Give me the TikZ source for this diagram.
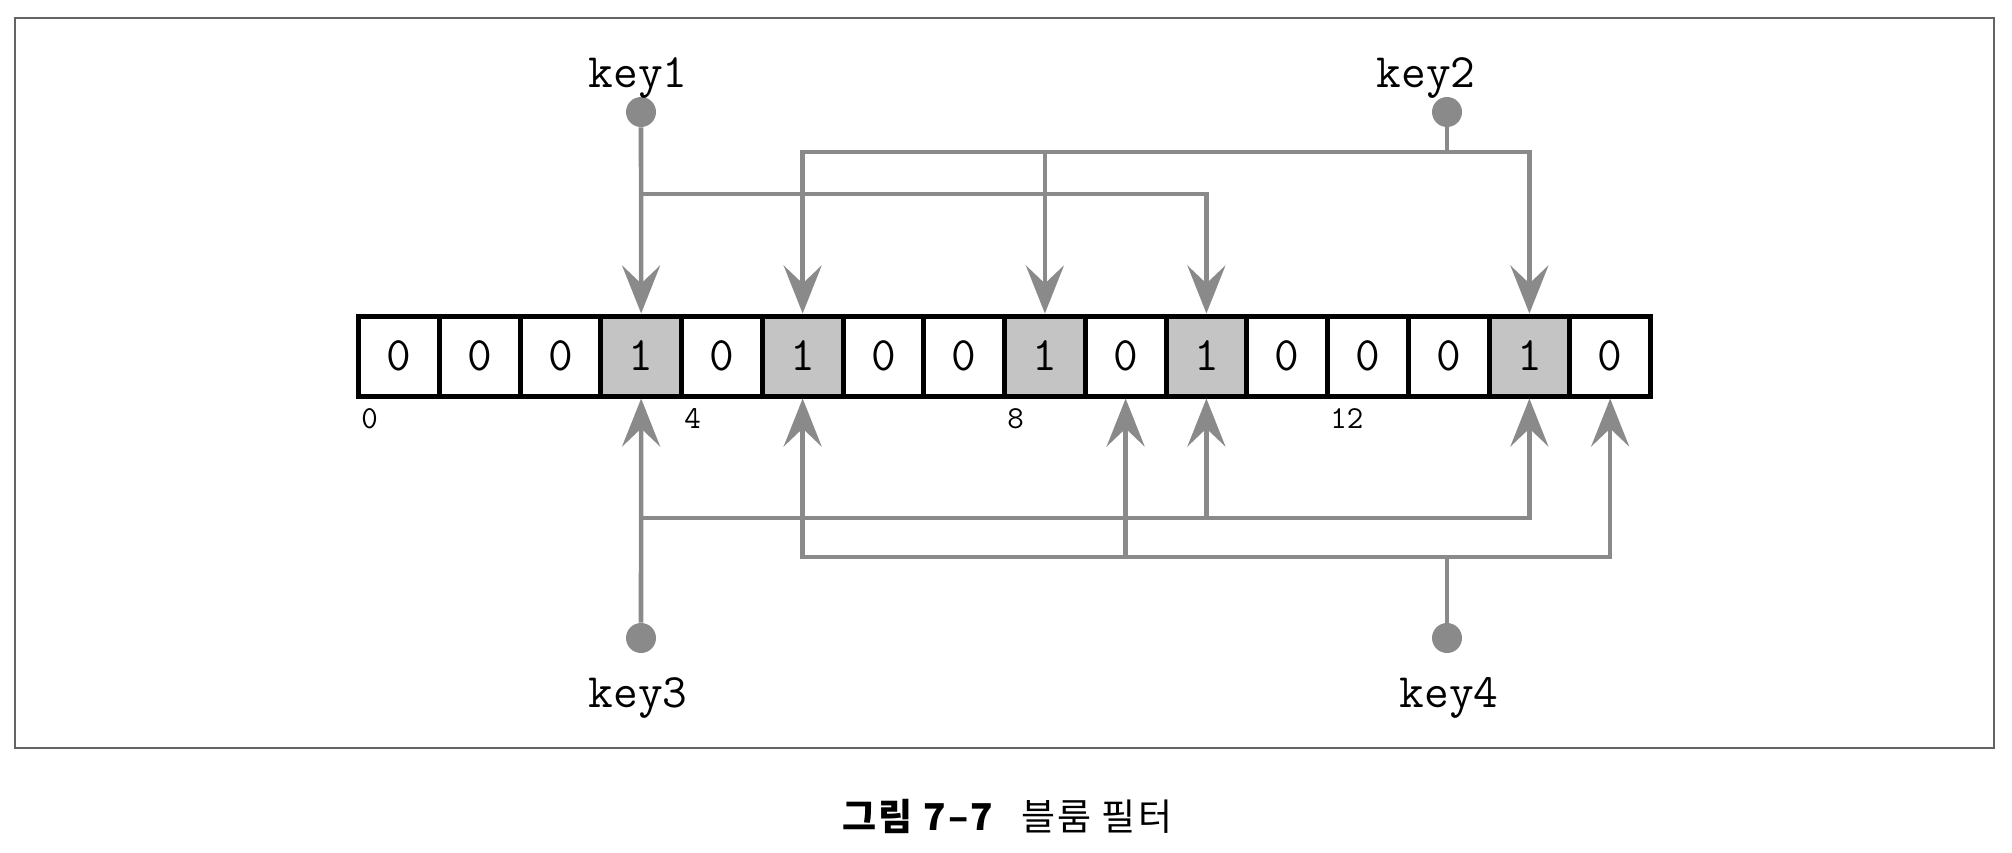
\documentclass[tikz,border=0pt]{standalone}
\usepackage{fontspec}
\newfontfamily\kr[LetterSpace=6]{Noto Sans CJK KR}
\usetikzlibrary{arrows.meta}
\definecolor{linegray}{RGB}{138,138,138}
\definecolor{cellgray}{RGB}{196,196,196}
\definecolor{framegray}{RGB}{100,100,100}
\begin{document}
\begin{tikzpicture}[x=0.5pt,y=-0.5pt,
  cell/.style={draw=black, line width=2.5pt, minimum width=40.375pt, minimum height=40pt, inner sep=0pt, font=\ttfamily\fontsize{24}{24}\selectfont},
  conn/.style={draw=linegray, line width=2.3pt},
  arr/.style={conn, -{Stealth[length=24pt,width=19pt,inset=9pt]}},
  keydot/.style={circle, fill=linegray, minimum size=15pt, inner sep=0pt},
  keylabel/.style={font=\ttfamily\fontsize{24}{24}\selectfont, inner sep=0pt, anchor=base},
  idx/.style={font=\ttfamily\fontsize{16}{16}\selectfont, inner sep=0pt, anchor=north west, xshift=2.5pt, yshift=-5pt}
]
\useasboundingbox (0,0) rectangle (2012,852);
\draw[framegray, line width=1pt] (15,18) rectangle (1994,748);

% bit array
\foreach \v/\f [count=\i from 0] in {0/white,0/white,0/white,1/cellgray,0/white,1/cellgray,0/white,0/white,1/cellgray,0/white,1/cellgray,0/white,0/white,0/white,1/cellgray,0/white}
  \node[cell, fill=\f] (c\i) at (398.9+80.75*\i, 356) {\v};

% indices
\node[idx] (i0) at (c0.south west) {0};
\node[idx] (i4) at (c4.south west) {4};
\node[idx] (i8) at (c8.south west) {8};
\node[idx] (i12) at (c12.south west) {12};

% keys
\node[keydot] (k1) at (641,112) {};
\node[keylabel] (k1l) at (638,87) {key1};
\node[keydot] (k2) at (1447,112) {};
\node[keylabel] (k2l) at (1426,87) {key2};
\node[keydot] (k3) at (641,638) {};
\node[keylabel] (k3l) at (638,707) {key3};
\node[keydot] (k4) at (1447,638) {};
\node[keylabel] (k4l) at (1449,707) {key4};

\coordinate (j1) at (641,194);
\coordinate (j2) at (1447,152);
\coordinate (j3) at (641,518);
\coordinate (j4) at (1447,557);

% key1
\draw[arr] (k1) -- (c3.north);
\draw[arr] (j1) -| (c10.north);
% key2
\draw[conn] (k2) -- (j2);
\draw[arr] (j2) -| (c5.north);
\draw[arr] (j2) -| (c14.north);
\draw[arr] (c8.north |- j2) -- (c8.north);
% key3
\draw[arr] (k3) -- (c3.south);
\draw[arr] (j3) -| (c14.south);
\draw[arr] (c10.south |- j3) -- (c10.south);
% key4
\draw[conn] (k4) -- (j4);
\draw[arr] (j4) -| (c5.south);
\draw[arr] (j4) -| (c15.south);
\draw[arr] (c9.south |- j4) -- (c9.south);

% caption
\node[font=\kr\fontsize{18.5}{18.5}\selectfont, inner sep=0pt, anchor=west] (cap) at (842,816) {{\bfseries 그림 7–7}\hspace{14pt}블룸 필터};
\end{tikzpicture}
\end{document}
